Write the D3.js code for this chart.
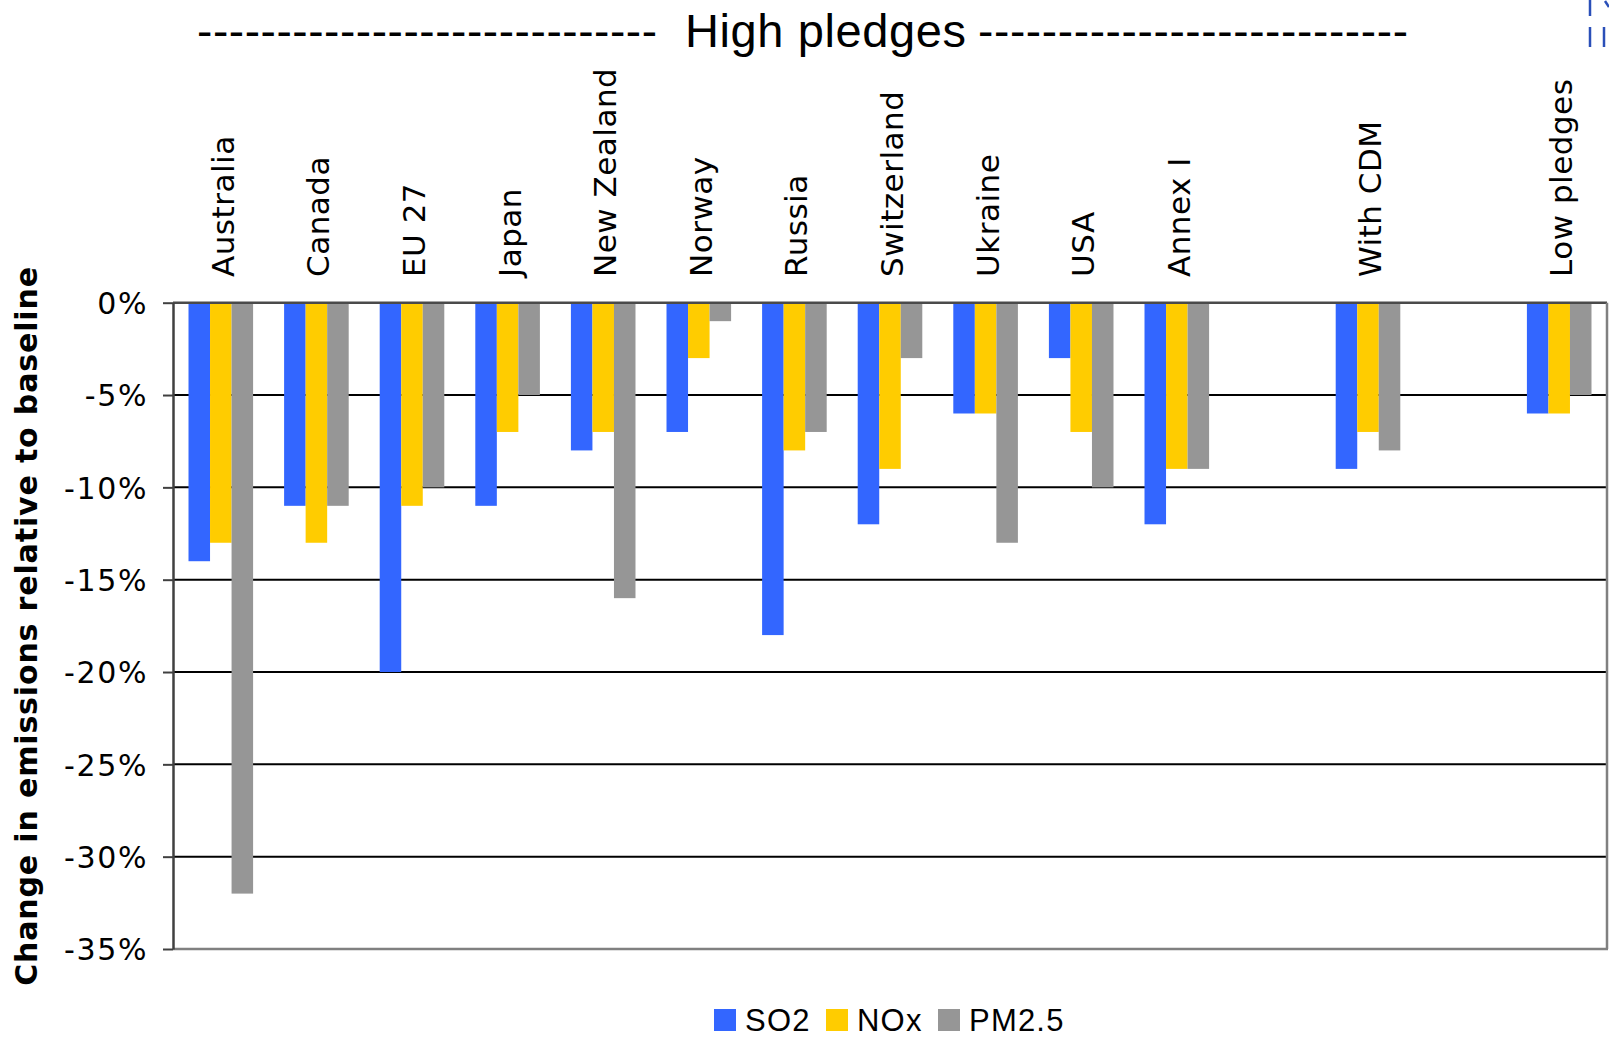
<!DOCTYPE html>
<html>
<head>
<meta charset="utf-8">
<script src="https://cdn.jsdelivr.net/npm/d3@7/dist/d3.min.js"></script>
<style>
  html, body { margin: 0; padding: 0; background: #fff; }
  svg { display: block; }
</style>
</head>
<body>
<svg id="chart" width="1609" height="1039"></svg>
<script>
// Category slots (two blank slots separate the aggregate groups)
const categories = ["Australia", "Canada", "EU 27", "Japan", "New Zealand", "Norway", "Russia",
  "Switzerland", "Ukraine", "USA", "Annex I", "", "With CDM", "", "Low pledges"];

// Change in emissions relative to baseline, %
const so2  = [-14, -11, -20, -11,  -8, -7, -18, -12,  -6,  -3, -12, null, -9, null, -6];
const nox  = [-13, -13, -11,  -7,  -7, -3,  -8,  -9,  -6,  -7,  -9, null, -7, null, -6];
const pm25 = [-32, -11, -10,  -5, -16, -1,  -7,  -3, -13, -10,  -9, null, -8, null, -5];

const seriesNames = ["SO2", "NOx", "PM2.5"];
const seriesColors = ["#3366ff", "#ffcc00", "#969696"];
const yTicks = [0, -5, -10, -15, -20, -25, -30, -35];

const titleText = "High pledges";
const yTitle = "Change in emissions relative to baseline";

const svg = d3.select("#chart");
const plotLeft = 173, plotRight = 1607, plotTop = 302.7, plotBottom = 949;

const x = d3.scaleBand().domain(d3.range(categories.length)).range([plotLeft, plotRight]).padding(0);
const xs = d3.scaleBand().domain(seriesNames).range([0, x.bandwidth()])
  .paddingInner(0).paddingOuter(0.72);
const y = d3.scaleLinear().domain([-35, 0]).range([plotBottom, plotTop]);

// Horizontal gridlines
svg.append("g").selectAll("line").data(yTicks.filter(t => t !== 0 && t !== -35)).join("line")
  .attr("x1", plotLeft).attr("x2", plotRight)
  .attr("y1", d => y(d)).attr("y2", d => y(d))
  .attr("stroke", "#000").attr("stroke-width", 2);

// Bars
const series = [so2, nox, pm25];
const barRows = [];
series.forEach((vals, si) => vals.forEach((v, ci) => {
  if (v !== null) barRows.push({ ci, s: seriesNames[si], v, color: seriesColors[si] });
}));
svg.append("g").selectAll("rect").data(barRows).join("rect")
  .attr("x", d => x(d.ci) + xs(d.s))
  .attr("width", xs.bandwidth())
  .attr("y", d => y(0))
  .attr("height", d => y(d.v) - y(0))
  .attr("fill", d => d.color);

// Zero line, bottom line and right border
svg.append("line").attr("x1", plotLeft).attr("x2", plotRight).attr("y1", y(0)).attr("y2", y(0))
  .attr("stroke", "#4a4a4a").attr("stroke-width", 2.5);
svg.append("line").attr("x1", plotLeft).attr("x2", plotRight + 1).attr("y1", y(-35)).attr("y2", y(-35))
  .attr("stroke", "#808080").attr("stroke-width", 2.5);
svg.append("line").attr("x1", plotRight).attr("x2", plotRight).attr("y1", y(0)).attr("y2", y(-35))
  .attr("stroke", "#808080").attr("stroke-width", 2.5);

// Y axis
const yAxis = svg.append("g").attr("transform", `translate(${plotLeft},0)`)
  .call(d3.axisLeft(y).tickValues(yTicks).tickSize(10).tickSizeOuter(0).tickFormat(d => `${d}%`));
yAxis.select(".domain").attr("stroke", "#404040").attr("stroke-width", 2.5);
yAxis.selectAll(".tick line").attr("stroke", "#404040").attr("stroke-width", 2);
yAxis.selectAll(".tick text")
  .attr("x", -25)
  .attr("dy", "0.36em")
  .attr("fill", "#000")
  .style("font-family", "'DejaVu Sans', Verdana, sans-serif")
  .style("font-size", "30px")
  .style("letter-spacing", "1.6px");

// Category labels, rotated
svg.append("g").selectAll("text").data(categories.map((c, i) => ({ c, i })).filter(d => d.c)).join("text")
  .attr("transform", d => `translate(${x(d.i) + x.bandwidth() / 2 + 13},277) rotate(-90)`)
  .attr("text-anchor", "start")
  .style("font-family", "'DejaVu Sans', Verdana, sans-serif")
  .style("font-size", "31px")
  .style("letter-spacing", "0.5px")
  .attr("fill", "#000")
  .text(d => d.c);

// Y axis title
svg.append("text")
  .attr("transform", `translate(37,626) rotate(-90)`)
  .attr("text-anchor", "middle")
  .style("font-family", "'DejaVu Sans', Verdana, sans-serif")
  .style("font-weight", "bold")
  .style("font-size", "30px")
  .style("letter-spacing", "0.85px")
  .attr("fill", "#000")
  .text(yTitle);

// Title with dashed leaders
const titleFont = "'Liberation Sans', Arial, sans-serif";
svg.append("text").attr("x", 197).attr("y", 47)
  .attr("textLength", 460).attr("lengthAdjust", "spacing")
  .style("font-family", titleFont).style("font-size", "46px").attr("fill", "#000")
  .text("-".repeat(29));
svg.append("text").attr("x", 685).attr("y", 47)
  .style("font-family", titleFont).style("font-size", "47px")
  .style("letter-spacing", "0.6px").attr("fill", "#000")
  .text(titleText);
svg.append("text").attr("x", 978).attr("y", 47)
  .attr("textLength", 430).attr("lengthAdjust", "spacing")
  .style("font-family", titleFont).style("font-size", "46px").attr("fill", "#000")
  .text("-".repeat(27));

// Clipped fragment in the top-right corner
const frag = svg.append("g").attr("stroke", "#2a4fb8").attr("stroke-width", 2.5).attr("fill", "none");
frag.append("line").attr("x1", 1590).attr("x2", 1590).attr("y1", 0).attr("y2", 16);
frag.append("line").attr("x1", 1590).attr("x2", 1590).attr("y1", 27).attr("y2", 47);
frag.append("line").attr("x1", 1604).attr("x2", 1604).attr("y1", 27).attr("y2", 47);
frag.append("line").attr("x1", 1605).attr("x2", 1609).attr("y1", 1).attr("y2", 7);

// Legend
const legend = svg.append("g").attr("transform", "translate(714,1009)");
const legendOffsets = [0, 112, 224];
seriesNames.forEach((name, i) => {
  const g = legend.append("g").attr("transform", `translate(${legendOffsets[i]},0)`);
  g.append("rect").attr("width", 22).attr("height", 22).attr("fill", seriesColors[i]);
  g.append("text").attr("x", 31).attr("y", 22)
    .style("font-family", "'Liberation Sans', Arial, sans-serif")
    .style("font-size", "31px")
    .style("letter-spacing", "1.2px")
    .attr("fill", "#000")
    .text(name);
});
</script>
</body>
</html>
